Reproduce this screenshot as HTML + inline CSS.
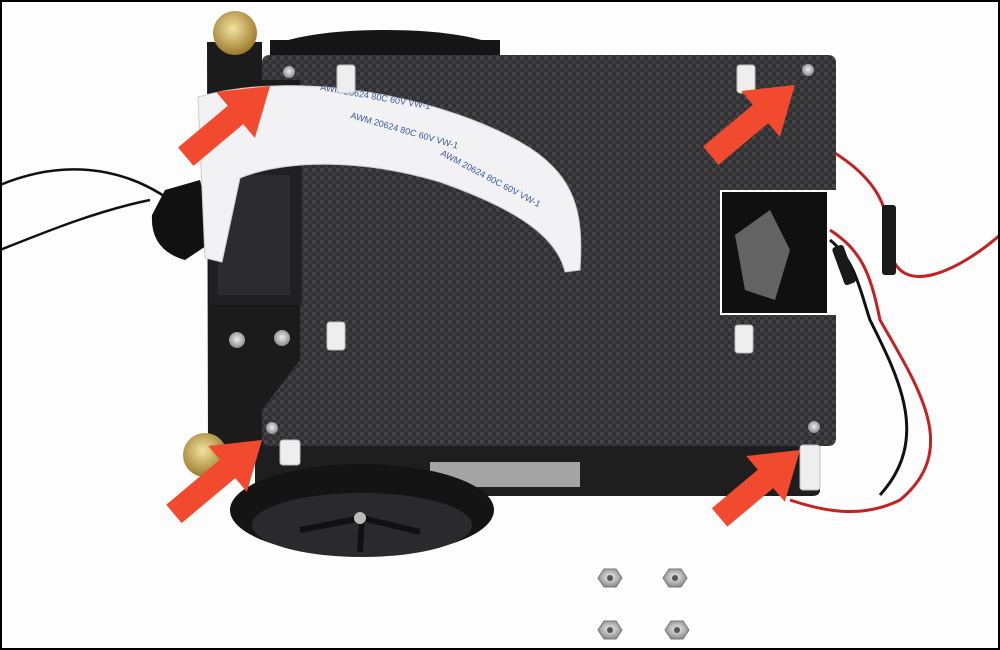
<!DOCTYPE html>
<html><head><meta charset="utf-8"><style>
html,body{margin:0;padding:0;background:#fff;}
svg{display:block}
</style></head><body>
<svg width="1000" height="650" viewBox="0 0 1000 650">
<defs>
<pattern id="carbon" width="8" height="8" patternUnits="userSpaceOnUse">
<rect width="8" height="8" fill="#303032"/>
<rect width="4" height="4" fill="#444447"/>
<rect x="4" y="4" width="4" height="4" fill="#3c3c3f"/>
</pattern>
<radialGradient id="nut" cx="50%" cy="45%" r="55%"><stop offset="0" stop-color="#eee"/><stop offset="1" stop-color="#8a8a8a"/></radialGradient>
<radialGradient id="gold" cx="45%" cy="40%" r="60%"><stop offset="0" stop-color="#f3e3a0"/><stop offset="1" stop-color="#9b7a2a"/></radialGradient>
</defs>
<rect width="1000" height="650" fill="#fdfdfd"/>

<path d="M0,185 C60,160 120,165 170,200" stroke="#111" stroke-width="2.5" fill="none"/>
<path d="M0,250 C50,230 100,210 150,200" stroke="#111" stroke-width="2.5" fill="none"/>
<path d="M830,150 C880,180 890,210 890,250 C900,300 960,270 1000,235" stroke="#c62020" stroke-width="3" fill="none"/>
<path d="M830,230 C860,250 870,270 880,320 C920,390 960,450 900,500 C860,520 820,510 790,500" stroke="#c62020" stroke-width="3" fill="none"/>
<path d="M830,240 C855,260 860,290 870,320 C900,380 930,440 880,495" stroke="#111" stroke-width="3" fill="none"/>
<rect x="882" y="205" width="14" height="70" rx="3" fill="#1a1a1a"/>
<rect x="838" y="245" width="12" height="40" rx="3" fill="#1a1a1a" transform="rotate(-20 844 265)"/>

<ellipse cx="385" cy="52" rx="115" ry="22" fill="#161616"/>
<rect x="270" y="40" width="230" height="40" fill="#161616"/>

<path d="M255,440 L820,440 L820,490 Q820,496 812,496 L262,496 Q255,496 255,488 Z" fill="#1e1e1f"/>
<rect x="430" y="462" width="150" height="25" fill="#ddd" opacity="0.7"/>

<ellipse cx="362" cy="510" rx="132" ry="46" fill="#141414"/>
<ellipse cx="362" cy="525" rx="110" ry="32" fill="#2a2a2c"/>
<g stroke="#111" stroke-width="6"><line x1="362" y1="518" x2="300" y2="530"/><line x1="362" y1="518" x2="420" y2="532"/><line x1="362" y1="518" x2="360" y2="552"/></g>
<circle cx="360" cy="518" r="6" fill="#bbb"/>

<path d="M270,55 L828,55 Q836,55 836,63 L836,190 L720,190 L720,315 L836,315 L836,438 Q836,446 828,446 L270,446 Q262,446 262,438 L262,63 Q262,55 270,55 Z" fill="url(#carbon)"/>
<rect x="722" y="192" width="105" height="121" fill="#101010"/>
<path d="M735,235 L770,210 L790,250 L775,300 L745,290 Z" fill="#9b9b9b" opacity="0.6"/>

<path d="M207,42 L262,42 L262,80 L300,80 L300,360 L262,410 L262,450 L208,450 Z" fill="#1b1b1c"/>
<circle cx="235" cy="33" r="22" fill="url(#gold)"/>
<circle cx="205" cy="455" r="22" fill="url(#gold)"/>
<circle cx="237" cy="340" r="8" fill="url(#nut)"/><circle cx="282" cy="338" r="8" fill="url(#nut)"/>

<rect x="210" y="165" width="92" height="140" fill="#202022"/>
<rect x="218" y="175" width="72" height="120" fill="#2c2c2e"/>
<path d="M165,190 L200,180 L215,240 L185,260 Q150,250 152,215 Z" fill="#111"/>

<path d="M198,97 C300,68 450,98 530,148 C575,178 584,212 580,270 L565,272 C556,232 505,205 440,182 C360,158 285,160 240,178 L222,262 L205,258 Z" fill="#f2f2f4" stroke="#ccc"/>
<g font-family="Liberation Sans, sans-serif" font-size="9" fill="#3a58a8">
<text x="320" y="90" transform="rotate(10 320 90)">AWM 20624 80C 60V VW-1</text>
<text x="230" y="112" transform="rotate(5 230 112)">VW-1</text>
<text x="350" y="118" transform="rotate(16 350 118)">AWM 20624 80C 60V VW-1</text>
<text x="440" y="155" transform="rotate(28 440 155)">AWM 20624 80C 60V VW-1</text>
</g>

<g fill="#eee" stroke="#bbb">
<rect x="337" y="65" width="18" height="28" rx="3"/>
<rect x="737" y="65" width="18" height="28" rx="3"/>
<rect x="327" y="322" width="18" height="28" rx="3"/>
<rect x="735" y="325" width="18" height="28" rx="3"/>
<rect x="280" y="440" width="20" height="25" rx="3"/>
<rect x="800" y="445" width="20" height="45" rx="3"/>
</g>
<g fill="url(#nut)">
<circle cx="289" cy="72" r="6"/>
<circle cx="808" cy="70" r="6"/>
<circle cx="272" cy="428" r="6"/>
<circle cx="814" cy="427" r="6"/>
</g>

<g fill="#f24a2e">
<g transform="translate(270,86) rotate(-40)"><polygon points="0,0 -45,-30 -45,-12 -110,-12 -110,12 -45,12 -45,30"/></g>
<g transform="translate(795,85) rotate(-40)"><polygon points="0,0 -45,-30 -45,-12 -110,-12 -110,12 -45,12 -45,30"/></g>
<g transform="translate(262,440) rotate(-40)"><polygon points="0,0 -45,-30 -45,-12 -115,-12 -115,12 -45,12 -45,30"/></g>
<g transform="translate(800,450) rotate(-40)"><polygon points="0,0 -45,-30 -45,-12 -105,-12 -105,12 -45,12 -45,30"/></g>
</g>

<g stroke="#777" stroke-width="1">
<polygon points="598,578 604,569 616,569 622,578 616,587 604,587" fill="url(#nut)"/>
<polygon points="663,578 669,569 681,569 687,578 681,587 669,587" fill="url(#nut)"/>
<polygon points="598,630 604,621 616,621 622,630 616,639 604,639" fill="url(#nut)"/>
<polygon points="665,630 671,621 683,621 689,630 683,639 671,639" fill="url(#nut)"/>
</g>
<g fill="#555"><circle cx="610" cy="578" r="3"/><circle cx="675" cy="578" r="3"/><circle cx="610" cy="630" r="3"/><circle cx="677" cy="630" r="3"/></g>

<rect x="1" y="1" width="998" height="648" fill="none" stroke="#000" stroke-width="2"/>
</svg>
</body></html>
